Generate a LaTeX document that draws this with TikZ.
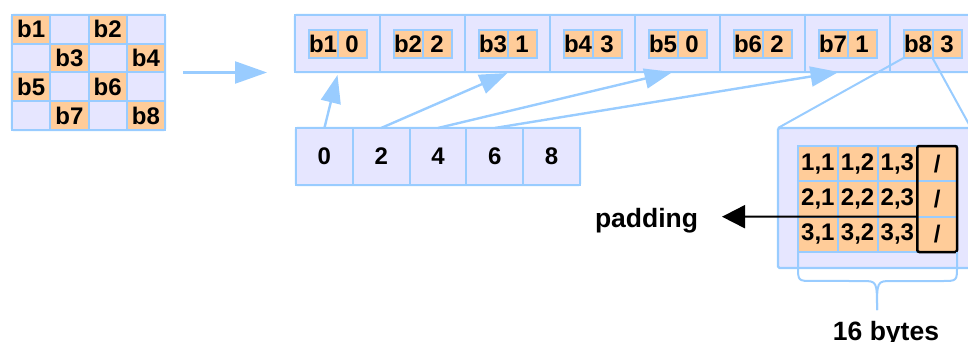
\documentclass[tikz,border=0pt]{standalone}
\usepackage{fontspec}
\setmainfont{Liberation Sans}
\usetikzlibrary{arrows.meta,calc}
\definecolor{lav}{HTML}{E6E6FF}
\definecolor{edge}{HTML}{99CCFF}
\definecolor{peach}{HTML}{FFCC99}
\begin{document}
\begin{tikzpicture}[x=1pt,y=-1pt,
  every node/.style={inner sep=0pt, outer sep=0pt},
  celltext/.style={font=\fontsize{24}{24}\selectfont\bfseries},
  labeltext/.style={font=\fontsize{26.5}{26.5}\selectfont\bfseries},
  frame/.style={draw=edge, fill=lav, line width=2.2pt, rounded corners=1.5pt},
  lavcell/.style={draw=edge, fill=lav, line width=2pt},
  peachcell/.style={draw=edge, fill=peach, line width=2pt, celltext},
  blarrow/.style={draw=edge, line width=2.4pt, -{Triangle[length=28pt,width=20pt]}},
  callout/.style={draw=edge, line width=2pt},
]
\useasboundingbox (0,0) rectangle (968,342);
\clip (0,0) rectangle (968,342);

% ---- 4x4 block matrix ----
\node[frame, minimum width=153pt, minimum height=115pt] (lg) at (88.5,72.5) {};
\foreach \r in {0,...,3}
  \foreach \c in {0,...,3}
    \node[lavcell, minimum width=38.25pt, minimum height=28.75pt]
      (g\r\c) at ({12+38.25*(\c+0.5)},{15+28.75*(\r+0.5)}) {};
\foreach \r/\c/\t in {0/0/b1, 0/2/b2, 1/1/b3, 1/3/b4, 2/0/b5, 2/2/b6, 3/1/b7, 3/3/b8}
  \node[peachcell, minimum width=38.25pt, minimum height=28.75pt]
    (o\r\c) at ({12+38.25*(\c+0.5)},{15+28.75*(\r+0.5)}) {\t};

% ---- block array with tags ----
\node[frame, minimum width=690pt, minimum height=57pt, anchor=north west] (trow) at (295,15) {};
\foreach \i/\a/\b in {1/b1/0, 2/b2/2, 3/b3/1, 4/b4/3, 5/b5/0, 6/b6/2, 7/b7/1, 8/b8/3} {
  \node[lavcell, minimum width=85pt, minimum height=57pt] (t\i) at ({252.5+85*\i},43.5) {};
  \node[peachcell, minimum width=29pt, minimum height=28pt] (tl\i) at ({238+85*\i},44) {\a};
  \node[peachcell, minimum width=29pt, minimum height=28pt] (tr\i) at ({267+85*\i},44) {\b};
}

% ---- row offsets ----
\node[frame, minimum width=284pt, minimum height=57pt, anchor=north west] (brow) at (296,128) {};
\foreach \i/\v in {0/0, 1/2, 2/4, 3/6, 4/8}
  \node[lavcell, celltext, minimum width=56.8pt, minimum height=57pt]
    (c\i) at ({296+56.8*(\i+0.5)},156.5) {\v};

% ---- arrows ----
\draw[blarrow, -{Triangle[length=32pt,width=22pt]}]
  ([xshift=18pt]lg.east) -- ([xshift=-28pt]lg.east -| trow.west);
\draw[blarrow] (c0.north) -- ([yshift=-3pt]t1.south);
\draw[blarrow] (c1.north) -- ([yshift=-1pt]t3.south);
\draw[blarrow] (c2.north) -- ([xshift=-5pt]t5.south);
\draw[blarrow] (c3.north) -- ([xshift=-9pt]t7.south);

% ---- expanded block b8 ----
\node[frame, minimum width=200pt, minimum height=140pt, anchor=north west] (big) at (778,128) {};
\draw[callout] (tl8.south west) -- (big.north west);
\draw[callout] (tl8.south east) -- ($(big.north west)+(193,0)$);

\foreach \r in {0,1,2} {
  \foreach \c in {0,1,2}
    \node[peachcell, minimum width=39.75pt, minimum height=35.33pt]
      (e\r\c) at ({798+39.75*(\c+0.5)},{146+35.33*(\r+0.5)})
      {\pgfmathparse{int(\r+1)}\pgfmathresult,\pgfmathparse{int(\c+1)}\pgfmathresult};
  \node[peachcell, minimum width=39.75pt, minimum height=35.33pt]
    (e\r3) at ({798+39.75*3.5},{146+35.33*(\r+0.5)}) {/};
}
\node[draw=black, line width=2.5pt, rounded corners=2pt,
      minimum width=39.75pt, minimum height=106pt] (pad) at ({798+39.75*3.5},199) {};

% brace under the row
\draw[callout]
  (e20.south west) -- ++(0,14) .. controls ++(0,15) .. ++(15,15) -- (862,281)
  .. controls (877,281) .. (877,310);
\draw[callout]
  (pad.south east) -- ++(0,14) .. controls ++(0,15) .. ++(-15,15) -- (892,281)
  .. controls (877,281) .. (877,310);

% ---- labels ----
\node[labeltext, anchor=base west] (padlbl) at (595,227) {padding};
\coordinate (padtip) at (722,216.7);
\draw[line width=2pt, -{Triangle[length=23pt,width=23pt]}] (e23.north west) -- (padtip);
\node[labeltext, anchor=base] (bytes) at (886,340) {16 bytes};
\end{tikzpicture}
\end{document}
